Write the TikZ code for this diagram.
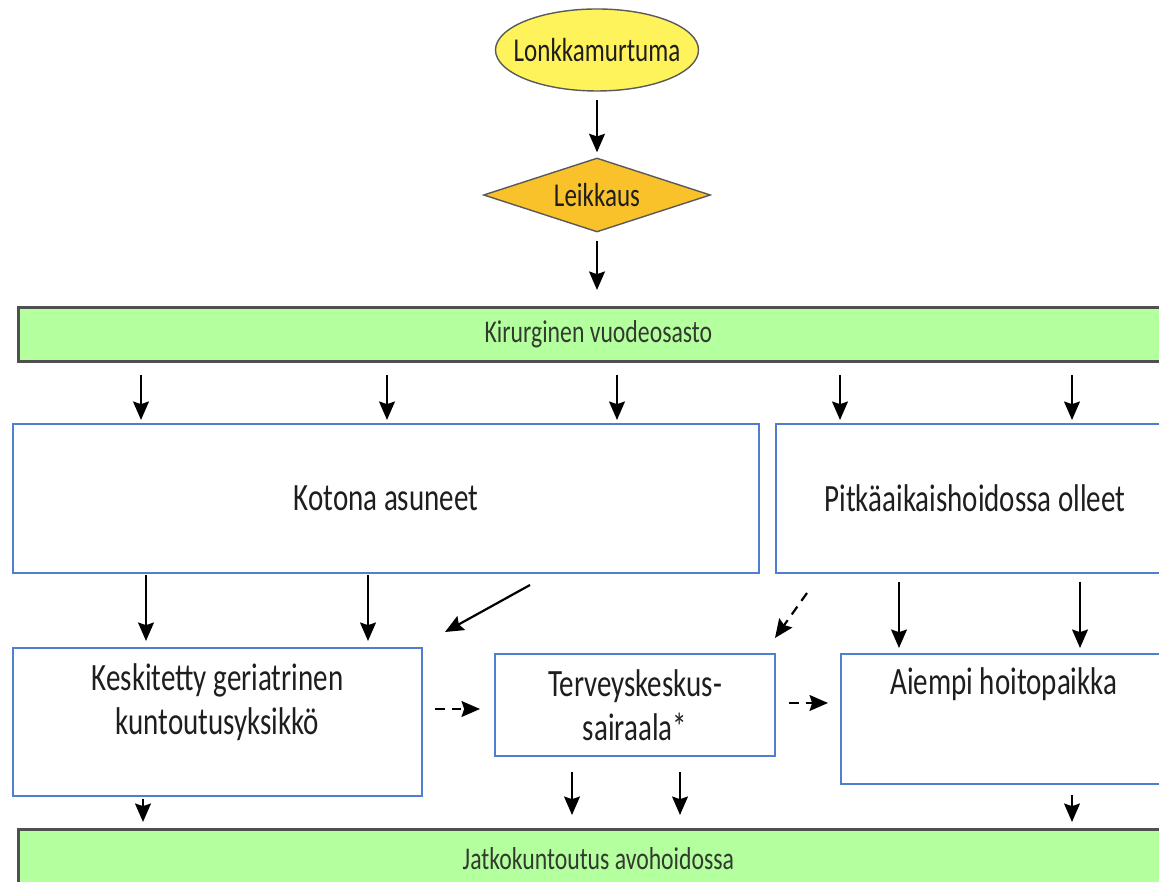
\documentclass[tikz,border=0pt]{standalone}
\usepackage{fontspec}
\setmainfont{Carlito}[FakeStretch=0.75]
\usetikzlibrary{arrows.meta,positioning,shapes.geometric}
\definecolor{boxblue}{HTML}{4F7FD0}
\definecolor{bargreen}{HTML}{B4FF9E}
\definecolor{bargray}{HTML}{505050}
\definecolor{startyellow}{HTML}{FFF35C}
\definecolor{opgold}{HTML}{F9C22B}
\definecolor{edgegray}{HTML}{5A5A5A}
\definecolor{darktext}{HTML}{1E1E1E}
\definecolor{bartext}{HTML}{333A30}
\tikzset{
  boxtext/.style={font=\fontsize{22}{25}\selectfont,text=darktext,align=center,inner sep=0pt},
  startnode/.style={ellipse,draw=edgegray,fill=startyellow,line width=0.8pt,minimum width=4.06cm,minimum height=1.64cm,inner sep=0pt,font=\fontsize{19}{21}\selectfont,text=darktext},
  opnode/.style={diamond,draw=edgegray,fill=opgold,line width=0.8pt,minimum width=4.54cm,minimum height=1.48cm,inner sep=0pt,font=\fontsize{19}{21}\selectfont,text=darktext},
  bar/.style={draw=bargray,fill=bargreen,line width=1.6pt,minimum width=23.2cm,inner sep=0pt,anchor=north west,font=\fontsize{18}{20}\selectfont,text=bartext},
  box/.style={draw=boxblue,fill=white,line width=1.1pt,inner sep=0pt,anchor=north west,font=\fontsize{22}{25}\selectfont,text=darktext,align=center},
  arr/.style={-{Stealth[length=10.5pt,width=9pt,inset=1.5pt]},draw=black,line width=1.25pt},
  arrdash/.style={arr,dash pattern=on 5.5pt off 4pt}
}
\begin{document}
\begin{tikzpicture}[x=1cm,y=1cm]
\clip (0,0) rectangle (23.18,17.64);
% start and surgery
\node[startnode] (lonk) at (11.94,16.64) {\makebox[0pt]{Lonkkamurtuma}};
\node[opnode] (leik) at (11.94,13.74) {\makebox[0pt]{Leikkaus}};
% ward bar
\node[bar,minimum height=1.08cm] (kir) at (0.34,11.52) {Kirurginen vuodeosasto};
% patient groups
\node[box,minimum width=14.92cm,minimum height=2.98cm] (kot) at (0.24,9.18) {Kotona asuneet};
\node[box,minimum width=7.96cm,minimum height=2.98cm] (pit) at (15.5,9.18) {Pitkäaikaishoidossa olleet};
% places of rehabilitation
\node[box,minimum width=8.18cm,minimum height=2.96cm] (kgk) at (0.24,4.70) {};
\node[boxtext,below=0.32cm of kgk.north] (kgktext) {Keskitetty geriatrinen\\kuntoutusyksikkö};
\node[box,minimum width=5.6cm,minimum height=2.04cm] (tsk) at (9.88,4.58) {Terveyskeskus-\\sairaala*};
\node[box,minimum width=6.52cm,minimum height=2.6cm] (aie) at (16.8,4.58) {};
\node[boxtext,below=0.28cm of aie.north] (aietext) {Aiempi hoitopaikka};
% outpatient bar
\node[bar,minimum height=1.16cm] (jat) at (0.34,1.08) {Jatkokuntoutus avohoidossa};
% connectors
\draw[arr,shorten <=0.16cm,shorten >=0.1cm] (lonk.south) -- (leik.north);
\draw[arr,shorten <=0.16cm,shorten >=0.32cm] (leik.south) -- (kir.north -| leik.south);
\foreach \x in {2.82,7.74,12.34}
  \draw[arr,shorten <=0.24cm,shorten >=0.06cm] (kir.south -| \x,0) -- (kot.north -| \x,0);
\foreach \x in {16.8,21.44}
  \draw[arr,shorten <=0.24cm,shorten >=0.06cm] (kir.south -| \x,0) -- (pit.north -| \x,0);
\foreach \x in {2.92,7.36}
  \draw[arr,shorten <=0.02cm,shorten >=0.12cm] (kot.south -| \x,0) -- (kgk.north -| \x,0);
\coordinate (kotout) at (10.6,5.94);
\coordinate (kgkin) at (8.9,5.0);
\draw[arr] (kotout) -- (kgkin);
\coordinate (pitout) at (16.14,5.78);
\coordinate (tskin) at (15.5,4.88);
\draw[arrdash] (pitout) -- (tskin);
\foreach \x in {17.98,21.6}
  \draw[arr,shorten <=0.16cm,shorten >=0.1cm] (pit.south -| \x,0) -- (aie.north -| \x,0);
\draw[arrdash,shorten <=0.24cm,shorten >=0.28cm] (kgk.east |- 0,3.46) -- (tsk.west |- 0,3.46);
\draw[arrdash,shorten <=0.26cm,shorten >=0.24cm] (tsk.east |- 0,3.58) -- (aie.west |- 0,3.58);
\draw[arr,shorten <=0.04cm,shorten >=0.12cm] (kgk.south -| 2.86,0) -- (jat.north -| 2.86,0);
\foreach \x in {11.44,13.6}
  \draw[arr,shorten <=0.3cm,shorten >=0.26cm] (tsk.south -| \x,0) -- (jat.north -| \x,0);
\draw[arr,shorten <=0.2cm,shorten >=0.12cm] (aie.south -| 21.44,0) -- (jat.north -| 21.44,0);
\end{tikzpicture}
\end{document}
